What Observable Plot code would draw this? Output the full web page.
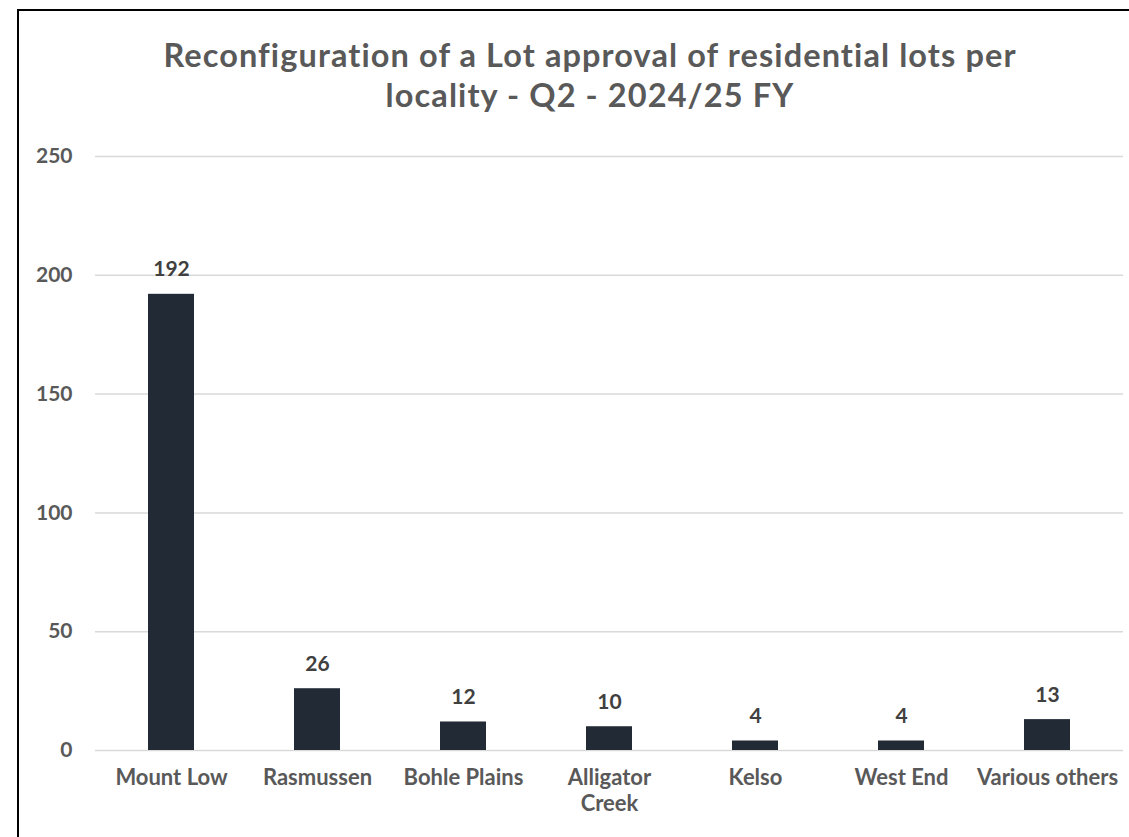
<!DOCTYPE html>
<html>
<head>
<meta charset="utf-8">
<script src="https://cdn.jsdelivr.net/npm/d3@7"></script>
<script src="https://cdn.jsdelivr.net/npm/@observablehq/plot@0.6"></script>
<style>
  html, body { margin: 0; padding: 0; background: #fff; }
  body { width: 1129px; height: 837px; overflow: hidden; position: relative; font-family: Lato, "Open Sans", sans-serif; }
  #frame { position: absolute; left: 17px; top: 9px; width: 1200px; height: 900px; border: 2px solid #000; box-sizing: border-box; }
  #title { position: absolute; left: 0; width: 1180px; top: 35px; text-align: center; font-weight: 700; font-size: 32.5px; letter-spacing: 1.1px; line-height: 40px; color: #595959; }
  #chart { position: absolute; left: 0; top: 140px; }
</style>
</head>
<body>
<div id="frame"></div>
<div id="title">Reconfiguration of a Lot approval of residential lots per<br>locality - Q2 - 2024/25 FY</div>
<div id="chart"></div>
<script>
const categories = ["Mount Low", "Rasmussen", "Bohle Plains", "Alligator Creek", "Kelso", "West End", "Various others"];
const values = [192, 26, 12, 10, 4, 4, 13];
const tickLabels = ["Mount Low", "Rasmussen", "Bohle Plains", "Alligator\nCreek", "Kelso", "West End", "Various others"];
const yTicks = [0, 50, 100, 150, 200, 250];

const data = categories.map((c, i) => ({category: c, value: values[i]}));
const labelOf = new Map(categories.map((c, i) => [c, tickLabels[i]]));

const plot = Plot.plot({
  width: 1129,
  height: 697,
  marginTop: 16,
  marginBottom: 87,
  marginLeft: 95,
  marginRight: 6,
  style: {fontFamily: "Lato, 'Open Sans', sans-serif", background: "transparent", overflow: "visible"},
  x: {domain: categories, paddingInner: 0.687, paddingOuter: 0.3435, label: null},
  y: {domain: [0, 250], ticks: yTicks, label: null},
  marks: [
    Plot.gridY(yTicks, {stroke: "#d9d9d9", strokeOpacity: 1, strokeWidth: 1.5}),
    Plot.barY(data, {x: "category", y: "value", fill: "#222a35"}),
    Plot.text(data, {x: "category", y: "value", text: d => String(d.value), lineAnchor: "bottom", dy: -18, fill: "#404040", fontWeight: 700, fontSize: 21}),
    Plot.axisY({ticks: yTicks, tickSize: 0, tickPadding: 23, fontSize: 21, fontWeight: 700, fill: "#595959", label: null}),
    Plot.axisX({tickSize: 0, tickPadding: 17, fontSize: 22, fontWeight: 700, fill: "#595959", tickFormat: d => labelOf.get(d), lineHeight: 1.15, label: null})
  ]
});
document.getElementById("chart").appendChild(plot);
</script>
</body>
</html>
